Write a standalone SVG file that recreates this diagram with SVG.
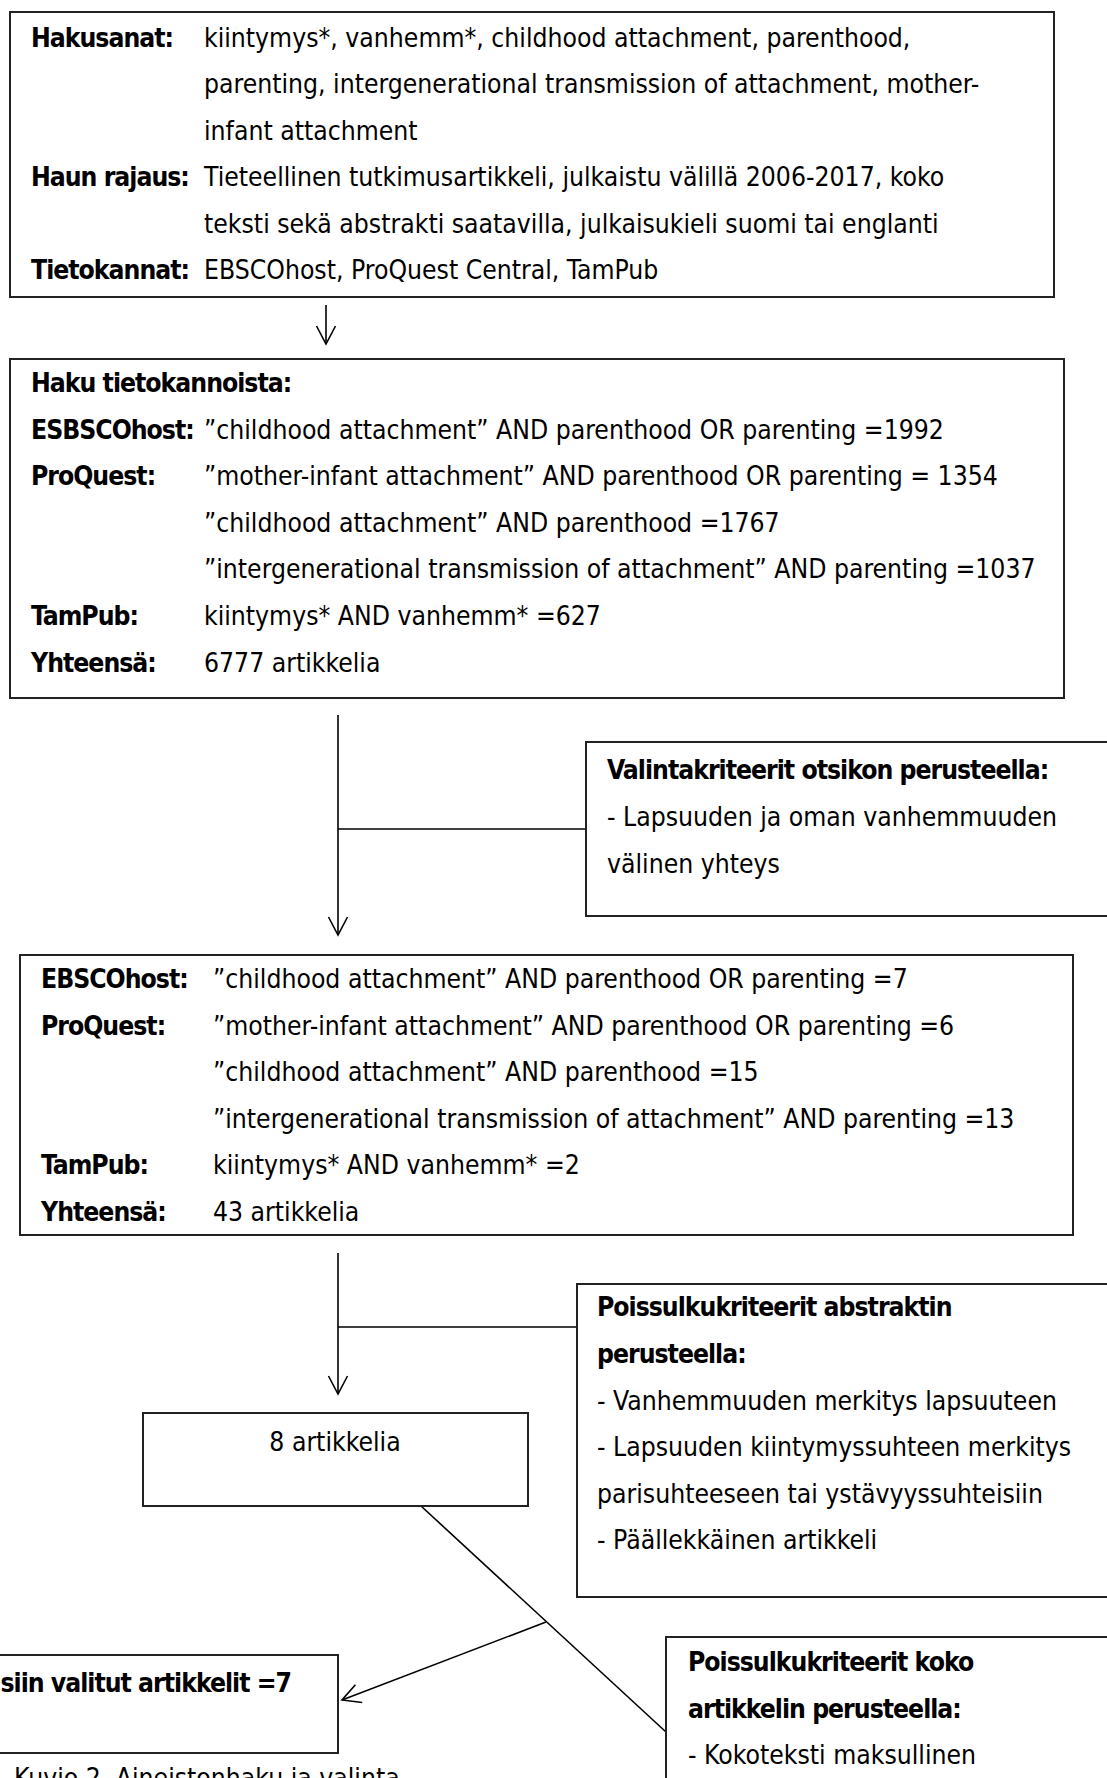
<svg xmlns="http://www.w3.org/2000/svg" width="1107" height="1778" viewBox="0 0 1107 1778">
<style>
text{font-family:"DejaVu Sans Condensed","DejaVu Sans",sans-serif;font-stretch:condensed;font-size:26.3px;fill:#000}
.b{font-weight:bold;letter-spacing:-1px}
.box{fill:#fff;stroke:#222;stroke-width:2}
.ln{stroke:#000;stroke-width:1.6;fill:none}
</style>
<defs>
<marker id="ah" markerUnits="userSpaceOnUse" viewBox="-20 -12 22 24" refX="0" refY="0" markerWidth="22" markerHeight="24" orient="auto">
<path d="M-18,-9.5 L0,0 L-18,9.5" fill="none" stroke="#000" stroke-width="1.6"/>
</marker>
</defs>
<rect width="1107" height="1778" fill="#fff"/>
<g id="connectors">
<line class="ln" x1="326" y1="305" x2="326" y2="344" marker-end="url(#ah)"/>
<line class="ln" x1="338" y1="715" x2="338" y2="935" marker-end="url(#ah)"/>
<line class="ln" x1="338" y1="829" x2="586" y2="829"/>
<line class="ln" x1="338" y1="1253" x2="338" y2="1394" marker-end="url(#ah)"/>
<line class="ln" x1="338" y1="1327" x2="577" y2="1327"/>
<line class="ln" x1="421" y1="1506" x2="666" y2="1732"/>
<line class="ln" x1="546" y1="1622" x2="342" y2="1700" marker-end="url(#ah)"/>
</g>
<g id="n1">
<rect class="box" x="10" y="12" width="1044" height="285"/>
<text class="b" x="31" y="46.5">Hakusanat:</text>
<text x="204" y="46.5">kiintymys*, vanhemm*, childhood attachment, parenthood,</text>
<text x="204" y="93">parenting, intergenerational transmission of attachment, mother-</text>
<text x="204" y="139.5">infant attachment</text>
<text class="b" x="31" y="186">Haun rajaus:</text>
<text x="204" y="186">Tieteellinen tutkimusartikkeli, julkaistu välillä 2006-2017, koko</text>
<text x="204" y="232.5">teksti sekä abstrakti saatavilla, julkaisukieli suomi tai englanti</text>
<text class="b" x="31" y="279">Tietokannat:</text>
<text x="204" y="279">EBSCOhost, ProQuest Central, TamPub</text>
</g>
<g id="n2">
<rect class="box" x="10" y="359" width="1054" height="339"/>
<text class="b" x="31" y="392">Haku tietokannoista:</text>
<text class="b" x="31" y="438.6">ESBSCOhost:</text>
<text x="204" y="438.6">”childhood attachment” AND parenthood OR parenting =1992</text>
<text class="b" x="31" y="485.2">ProQuest:</text>
<text x="204" y="485.2">”mother-infant attachment” AND parenthood OR parenting = 1354</text>
<text x="204" y="531.8">”childhood attachment” AND parenthood =1767</text>
<text x="204" y="578.4">”intergenerational transmission of attachment” AND parenting =1037</text>
<text class="b" x="31" y="625">TamPub:</text>
<text x="204" y="625">kiintymys* AND vanhemm* =627</text>
<text class="b" x="31" y="671.6">Yhteensä:</text>
<text x="204" y="671.6">6777 artikkelia</text>
</g>
<g id="n3">
<rect class="box" x="586" y="742" width="560" height="174"/>
<text class="b" x="607" y="779">Valintakriteerit otsikon perusteella:</text>
<text x="607" y="826">- Lapsuuden ja oman vanhemmuuden</text>
<text x="607" y="873">välinen yhteys</text>
</g>
<g id="n4">
<rect class="box" x="20" y="955" width="1053" height="280"/>
<text class="b" x="41" y="988">EBSCOhost:</text>
<text x="213" y="988">”childhood attachment” AND parenthood OR parenting =7</text>
<text class="b" x="41" y="1034.6">ProQuest:</text>
<text x="213" y="1034.6">”mother-infant attachment” AND parenthood OR parenting =6</text>
<text x="213" y="1081.2">”childhood attachment” AND parenthood =15</text>
<text x="213" y="1127.8">”intergenerational transmission of attachment” AND parenting =13</text>
<text class="b" x="41" y="1174.4">TamPub:</text>
<text x="213" y="1174.4">kiintymys* AND vanhemm* =2</text>
<text class="b" x="41" y="1221">Yhteensä:</text>
<text x="213" y="1221">43 artikkelia</text>
</g>
<g id="n5">
<rect class="box" x="577" y="1284" width="560" height="313"/>
<text class="b" x="597" y="1316">Poissulkukriteerit abstraktin</text>
<text class="b" x="597" y="1363">perusteella:</text>
<text x="597" y="1409.5">- Vanhemmuuden merkitys lapsuuteen</text>
<text x="597" y="1456">- Lapsuuden kiintymyssuhteen merkitys</text>
<text x="597" y="1502.5">parisuhteeseen tai ystävyyssuhteisiin</text>
<text x="597" y="1549">- Päällekkäinen artikkeli</text>
</g>
<g id="n6">
<rect class="box" x="143" y="1413" width="385" height="93"/>
<text x="335" y="1451" text-anchor="middle">8 artikkelia</text>
</g>
<g id="n7">
<rect class="box" x="-20" y="1655" width="358" height="98"/>
<text class="b" x="291" y="1692" text-anchor="end">siin valitut artikkelit =7</text>
</g>
<g id="n8">
<rect class="box" x="666" y="1637" width="500" height="200"/>
<text class="b" x="688" y="1671">Poissulkukriteerit koko</text>
<text class="b" x="688" y="1718">artikkelin perusteella:</text>
<text x="688" y="1764">- Kokoteksti maksullinen</text>
</g>
<g id="caption">
<text x="14" y="1787">Kuvio 2. Aineistonhaku ja valinta</text>
</g>
</svg>
